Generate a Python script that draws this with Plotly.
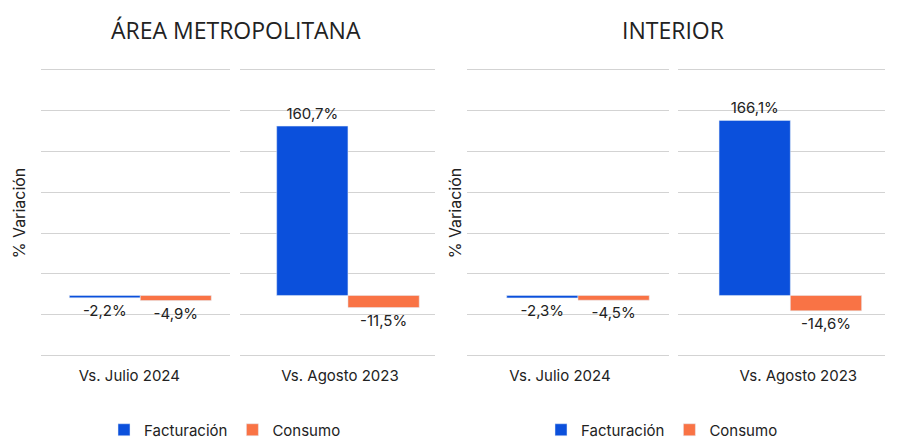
import plotly.graph_objects as go
import numpy as np

# data
periodos = ["Vs. Julio 2024", "Vs. Agosto 2023"]
facturacion_amba = [-2.2, 160.7]
consumo_amba = [-4.9, -11.5]
facturacion_interior = [-2.3, 166.1]
consumo_interior = [-4.5, -14.6]

AZUL = "#0B50DC"
NARANJA = "#F97345"
W, H = 900, 448

fig = go.Figure()

# pixel boxes of the 4 subplots (left, right), plot area top/bottom
cajas = [(41, 230), (240, 435), (467, 669), (678, 885)]
top_px, bottom_px = 67, 359
ymin, ymax = -60.3, 216.8
# x ranges so bar groups sit where the original had them
xrangos = [[-0.525, 0.474], [-0.568, 0.458], [-0.584, 0.479], [-0.591, 0.498]]
shifts = [-11, -8, -18, 8]
standoffs = {1: 10, 3: 0}

series = [
    (facturacion_amba, consumo_amba, "legend"),
    (facturacion_interior, consumo_interior, "legend2"),
]

n = 0
for fact, cons, leg in series:
    for j, per in enumerate(periodos):
        n += 1
        suf = "" if n == 1 else str(n)
        for nombre, vals, color in [("Facturación", fact, AZUL), ("Consumo", cons, NARANJA)]:
            fig.add_trace(go.Bar(
                x=[per], y=[vals[j]], name=nombre,
                marker_color=color, offsetgroup=nombre,
                texttemplate="%{y:.1f}%", textposition="outside",
                textfont=dict(size=15, color="#222"), cliponaxis=False,
                xaxis="x" + suf, yaxis="y" + suf,
                legend=leg, showlegend=(j == 0),
            ))

ticks = np.linspace(-57, 214, 8)
for i, (l, r) in enumerate(cajas):
    k = i + 1
    suf = "" if k == 1 else str(k)
    fig.update_layout({
        "xaxis" + suf: dict(
            domain=[l / W, r / W], anchor="y" + suf, range=xrangos[i],
            showgrid=False, zeroline=False, showline=False, ticks="",
            tickfont=dict(size=15, color="#222"), ticklabelshift=shifts[i],
            ticklabelstandoff=6,
        ),
        "yaxis" + suf: dict(
            domain=[1 - bottom_px / H, 1 - top_px / H], anchor="x" + suf,
            range=[ymin, ymax], tickvals=ticks, showticklabels=False,
            showgrid=True, gridcolor="#D3D3D3", gridwidth=1, zeroline=False,
            automargin=True,
            title=dict(text="% Variación" if k in standoffs else "",
                       standoff=standoffs.get(k, 0),
                       font=dict(size=16, color="#222")),
        ),
    })

titulo = dict(xref="paper", yref="paper", showarrow=False, xanchor="center", yanchor="middle",
              y=1 - 30 / H, font=dict(size=23, color="#222", family="Open Sans"))
fig.update_layout(
    width=W, height=H,
    margin=dict(l=0, r=0, t=0, b=0, autoexpand=False),
    paper_bgcolor="white", plot_bgcolor="white",
    font=dict(family="Inter", color="#222"),
    separators=",.",
    barmode="group", bargap=0.25, bargroupgap=0,
    legend=dict(orientation="h", x=225 / W, xanchor="center", y=1 - 430 / H, yanchor="middle",
                font=dict(size=15)),
    legend2=dict(orientation="h", x=662 / W, xanchor="center", y=1 - 430 / H, yanchor="middle",
                 font=dict(size=15)),
    annotations=[
        dict(titulo, text="ÁREA METROPOLITANA", x=236 / W),
        dict(titulo, text="INTERIOR", x=673 / W),
    ],
)

fig.write_html("out.html", config={"displayModeBar": False},
               post_script="document.body.style.margin='0';")
